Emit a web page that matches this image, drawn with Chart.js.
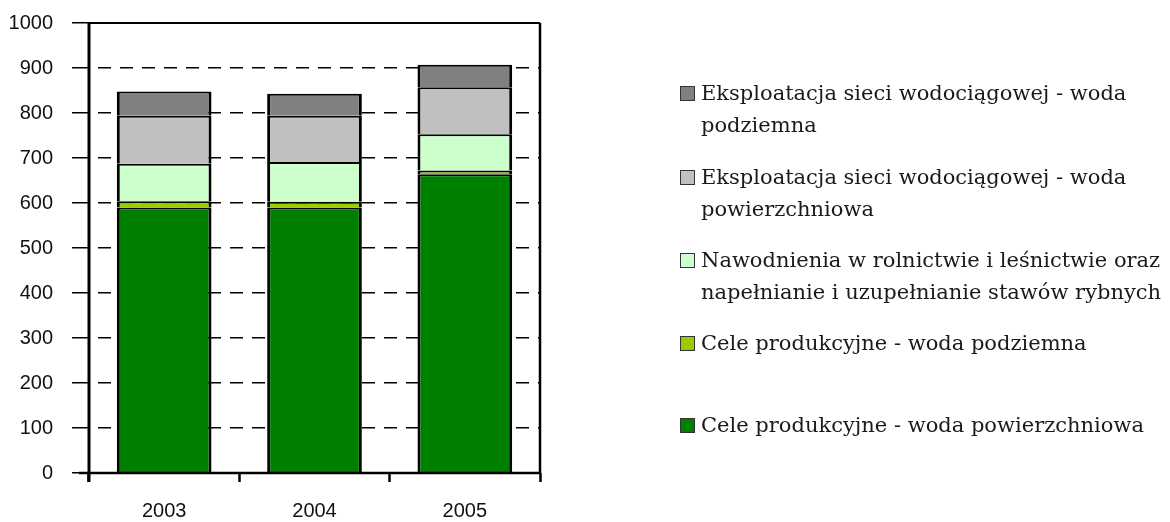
<!DOCTYPE html>
<html>
<head>
<meta charset="utf-8">
<script src="https://cdn.jsdelivr.net/npm/chart.js@4.4.1/dist/chart.umd.min.js"></script>
<style>
  body { margin: 0; background: #fff; }
  #wrap { position: relative; width: 1170px; height: 522px; overflow: hidden; }
  #legenda { position: absolute; left: 0; top: 0; font-family: "DejaVu Serif", serif; font-size: 21px; color: #1a1a1a; }
  .item { position: absolute; left: 680px; display: flex; align-items: flex-start; line-height: 32px; white-space: nowrap; }
  .box { width: 13px; height: 13px; border: 1px solid #333; margin-top: 9px; margin-right: 6px; flex: none; }
</style>
</head>
<body>
<div id="wrap">
  <canvas id="zuzycieWody" width="1170" height="522"></canvas>
  <div id="legenda"></div>
</div>
<script>
const lata = ["2003", "2004", "2005"];

// wartości od dołu słupka do góry
const produkcjaPowierzchniowa = [590, 590, 664];
const produkcjaPodziemna = [14, 13, 8];
const nawodnienia = [83, 88, 81];
const siecPowierzchniowa = [107, 103, 104];
const siecPodziemna = [54, 49, 50];

const etykiety = [
  ["Cele produkcyjne - woda powierzchniowa"],
  ["Cele produkcyjne - woda podziemna"],
  ["Nawodnienia w rolnictwie i leśnictwie oraz", "napełnianie i uzupełnianie stawów rybnych"],
  ["Eksploatacja sieci wodociągowej - woda", "powierzchniowa"],
  ["Eksploatacja sieci wodociągowej - woda", "podziemna"],
];
const kolory = ["#008000", "#99cc00", "#ccffcc", "#c0c0c0", "#808080"];
const serie = [produkcjaPowierzchniowa, produkcjaPodziemna, nawodnienia, siecPowierzchniowa, siecPodziemna];

// pozycje legendy (od góry), kolejność odwrócona jak w oryginale
const legendaTop = [409, 327, 244, 161, 77];

const ramka = {
  id: "ramka",
  afterDraw(chart) {
    const { ctx, chartArea: a } = chart;
    ctx.save();
    ctx.strokeStyle = "#000";
    ctx.lineWidth = 2;
    ctx.beginPath();
    ctx.moveTo(a.left, a.top);
    ctx.lineTo(a.right, a.top);
    ctx.stroke();
    ctx.lineWidth = 2.5;
    ctx.beginPath();
    ctx.moveTo(a.right, a.top);
    ctx.lineTo(a.right, a.bottom);
    ctx.moveTo(a.left - 10, a.bottom);
    ctx.lineTo(a.right, a.bottom);
    ctx.stroke();
    ctx.lineWidth = 3;
    ctx.beginPath();
    ctx.moveTo(a.left, a.top);
    ctx.lineTo(a.left, a.bottom + 9);
    ctx.stroke();
    ctx.restore();
  },
};

const ctx = document.getElementById("zuzycieWody");

const wykres = new Chart(ctx, {
  type: "bar",
  data: {
    labels: lata,
    datasets: serie.map((dane, i) => ({
      label: etykiety[i].join(" "),
      data: dane,
      backgroundColor: kolory[i],
      borderColor: "#000",
      borderWidth: { top: 2, left: 3, right: 3, bottom: 0 },
      barPercentage: 0.63,
      categoryPercentage: 1,
    })),
  },
  options: {
    responsive: false,
    devicePixelRatio: 1,
    animation: false,
    layout: { padding: { top: 23, right: 630, left: 0, bottom: 0 } },
    plugins: {
      legend: { display: false },
      tooltip: { enabled: false },
    },
    scales: {
      x: {
        stacked: true,
        offset: true,
        afterFit: (s) => { s.height = 49; },
        grid: {
          offset: true,
          drawOnChartArea: false,
          tickLength: 9,
          tickColor: "#000",
          tickWidth: 2.5,
        },
        border: { display: false },
        ticks: {
          padding: 17,
          color: "#111",
          font: { family: "Liberation Sans", size: 20 },
        },
      },
      y: {
        stacked: true,
        min: 0,
        max: 1000,
        afterFit: (s) => {
          s.width = 89;
          s.paddingTop = 0;
          s.paddingBottom = 0;
        },
        ticks: {
          stepSize: 100,
          padding: 19,
          color: "#111",
          font: { family: "Liberation Sans", size: 20 },
          callback: (v) => String(v),
        },
        grid: {
          color: (c) => (c.tick && (c.tick.value === 0 || c.tick.value === 1000) ? "rgba(0,0,0,0)" : "#000"),
          lineWidth: 1.5,
          tickLength: 17,
          tickColor: "#000",
          tickWidth: 1.5,
          tickBorderDash: [],
        },
        border: { display: false, dash: [13, 9], dashOffset: 13 },
      },
    },
  },
  plugins: [ramka],
});

// legenda HTML zbudowana z danych wykresu
const legenda = document.getElementById("legenda");
wykres.data.datasets.forEach((ds, i) => {
  const el = document.createElement("div");
  el.className = "item";
  el.style.top = legendaTop[i] + "px";
  const box = document.createElement("span");
  box.className = "box";
  box.style.background = ds.backgroundColor;
  const txt = document.createElement("span");
  txt.innerHTML = etykiety[i].join("<br>");
  el.appendChild(box);
  el.appendChild(txt);
  legenda.appendChild(el);
});
</script>
</body>
</html>
